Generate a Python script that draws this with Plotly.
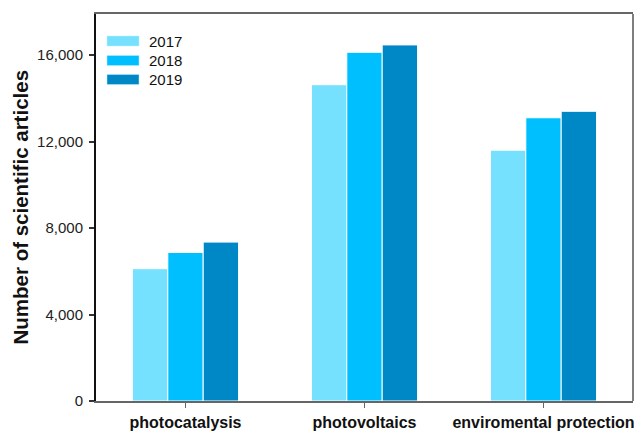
import plotly.graph_objects as go

categories = ["photocatalysis", "photovoltaics", "enviromental protection"]
years = ["2017", "2018", "2019"]
values_2017 = [6120, 14630, 11600]
values_2018 = [6870, 16130, 13100]
values_2019 = [7350, 16470, 13400]
colors = ["#76E1FF", "#00BFFF", "#0088C6"]
y_ticks = [0, 4000, 8000, 12000, 16000]

series = [values_2017, values_2018, values_2019]

fig = go.Figure()
for yr, vals, col in zip(years, series, colors):
    fig.add_trace(go.Bar(x=categories, y=vals, name=yr, marker=dict(color=col, line=dict(color="white", width=1)), showlegend=False))

fig.update_layout(
    width=638, height=432,
    margin=dict(l=96, r=5, t=14, b=31, autoexpand=False),
    paper_bgcolor="white", plot_bgcolor="white",
    barmode="group", bargap=0.407, bargroupgap=0,
    font=dict(family="Liberation Sans, Arial", color="#111"),
)
fig.update_xaxes(
    showline=True, linecolor="#666", linewidth=1.5, mirror=True,
    ticks="outside", ticklen=5, tickcolor="#666", tickwidth=1,
    tickfont=dict(size=16, family="Liberation Sans, Arial", color="#111", weight="bold"),
    ticklabelstandoff=1,
    range=[-0.5, 2.5], showgrid=False, automargin=False,
)
fig.update_yaxes(
    showline=True, linecolor="#111", linewidth=2,
    ticks="outside", ticklen=5, tickcolor="#333", tickwidth=1.5,
    tickvals=y_ticks, tickformat=",", tickfont=dict(size=15, color="#222"),
    ticklabelstandoff=3,
    range=[0, 17900], showgrid=False, zeroline=False, automargin=False,
)
# right border
fig.add_shape(type="line", xref="paper", yref="paper", x0=1, x1=1, y0=0, y1=1, line=dict(color="#555", width=1.5))

# y-axis title
fig.add_annotation(text="<b>Number of scientific articles</b>", xref="paper", yref="paper",
                   x=-0.1415, y=0.5, textangle=-90, showarrow=False,
                   font=dict(size=20.5, color="#111"), xanchor="center", yanchor="middle")

# legend as swatches + labels (paper coords)
pw, ph = 537.0, 387.0
def px(x):
    return (x - 96) / pw
def py(y):
    return (401 - y) / ph
legend_y = [41, 60.5, 79.5]
for yr, col, yc in zip(years, colors, legend_y):
    fig.add_shape(type="rect", xref="paper", yref="paper", x0=px(107), x1=px(139), y0=py(yc - 5), y1=py(yc + 5),
                  fillcolor=col, line=dict(color="#B8ECFF", width=0.5))
    fig.add_annotation(text=yr, xref="paper", yref="paper", x=px(147), y=py(yc), showarrow=False,
                       xanchor="left", yanchor="middle", font=dict(size=15, color="#111"))

fig.write_html("out.html", config={"displayModeBar": False},
               post_script="document.body.style.margin='0';document.body.style.overflow='hidden';")
